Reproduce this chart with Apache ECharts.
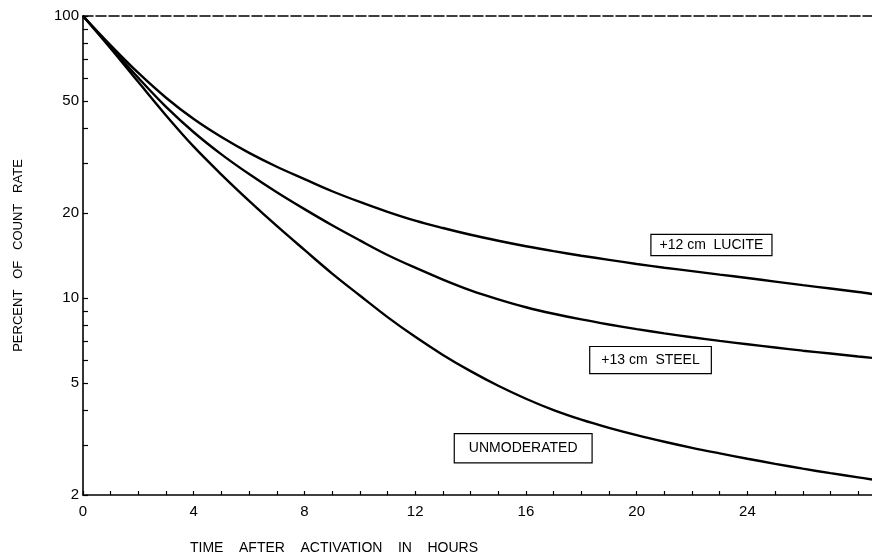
<!DOCTYPE html>
<html>
<head>
<meta charset="utf-8">
<script src="https://cdn.jsdelivr.net/npm/echarts@6/dist/echarts.min.js"></script>
<style>
html,body{margin:0;padding:0;background:#fff;}
#chart{width:872px;height:555px;}
</style>
</head>
<body>
<div id="chart"></div>
<script>
// Time after activation (hours)
const hours = [0,1,2,3,4,5,6,7,8,9,10,11,12,13,14,15,16,17,18,19,20,21,22,23,24,25,26,27,28,28.5];
// Percent of count rate, +12 cm Lucite
const lucite = [100,78.7,62.8,51.3,43.1,37.2,32.7,29.2,26.4,23.9,21.9,20.2,18.8,17.7,16.75,15.95,15.25,14.65,14.12,13.65,13.2,12.8,12.45,12.1,11.77,11.43,11.1,10.8,10.5,10.33];
// Percent of count rate, +13 cm Steel
const steel = [100,77.6,60.3,47.6,38.7,32.3,27.5,23.7,20.65,18.1,16.0,14.2,12.8,11.62,10.64,9.89,9.27,8.79,8.39,8.05,7.75,7.49,7.25,7.04,6.85,6.67,6.50,6.35,6.20,6.13];
// Percent of count rate, unmoderated
const unmoderated = [100,76.7,58.3,44.4,34.4,27.4,22.1,18.0,14.8,12.2,10.2,8.55,7.28,6.28,5.50,4.88,4.39,4.0,3.70,3.46,3.26,3.09,2.94,2.81,2.69,2.58,2.48,2.39,2.31,2.27];

const seriesNames = ['+12 cm  LUCITE', '+13 cm  STEEL', 'UNMODERATED'];
// label anchor positions in data units [hours, percent]
const labelAnchors = [[22.7, 15.4], [20.5, 6.02], [15.9, 2.93]];

const xTickLabels = [0,4,8,12,16,20,24];
const xTicks = [0,1,2,3,4,5,6,7,8,9,10,11,12,13,14,15,16,17,18,19,20,21,22,23,24,25,26,27,28];
const yTickLabels = [2,5,10,20,50,100];
const yTicks = [2,3,4,5,6,7,8,9,10,20,30,40,50,60,70,80,90,100];

const chart = echarts.init(document.getElementById('chart'), null, {renderer:'canvas'});
const FONT = 'Liberation Sans';

function mkSeries(name, vals, anchor, pad) {
  return {
    name: name,
    type: 'line',
    data: hours.map((h,i)=>[h, vals[i]]),
    showSymbol: false,
    smooth: 0.35,
    lineStyle: {color:'#000', width: 2.4},
    markPoint: {
      symbol: 'rect',
      symbolSize: 1,
      itemStyle: {color: 'rgba(0,0,0,0)'},
      data: [{coord: anchor, value: 0}],
      label: {
        show: true,
        position: 'inside',
        formatter: name,
        color: '#000',
        fontFamily: FONT,
        fontSize: 14,
        backgroundColor: '#fff',
        borderColor: '#000',
        borderWidth: 1.2,
        padding: pad
      }
    }
  };
}

chart.setOption({
  animation: false,
  backgroundColor: '#fff',
  grid: {left: 83, right: 0, top: 16, bottom: 60},
  xAxis: [{
    type: 'value', min: 0, max: 28.5,
    axisLine: {show: true, lineStyle: {color:'#000', width: 1.6}},
    axisTick: {show: true, inside: true, length: 4, customValues: xTicks, lineStyle:{color:'#000', width:1.2}},
    axisLabel: {customValues: xTickLabels, color:'#000', fontFamily: FONT, fontSize: 15, margin: 9},
    splitLine: {show: false}
  }, {
    type: 'value', min: 0, max: 28.5, position: 'top',
    axisLine: {show: true, lineStyle: {color:'#000', width: 1.6, type: [10,3]}},
    axisTick: {show: false}, axisLabel: {show: false}, splitLine: {show: false}
  }],
  yAxis: {
    type: 'log', logBase: 10, min: 2, max: 100,
    name: 'PERCENT   OF   COUNT   RATE',
    nameLocation: 'middle', nameGap: 58, nameRotate: 90,
    nameTextStyle: {color:'#000', fontFamily: FONT, fontSize: 13},
    axisLine: {show: true, lineStyle: {color:'#000', width: 1.6}},
    axisTick: {show: true, inside: true, length: 5, customValues: yTicks, lineStyle:{color:'#000', width:1.2}},
    axisLabel: {customValues: yTickLabels, color:'#000', fontFamily: FONT, fontSize: 15, margin: 4},
    splitLine: {show: false},
    minorTick: {show: false}
  },
  graphic: [{
    type: 'text', left: 190, top: 541,
    style: {text: 'TIME    AFTER    ACTIVATION    IN    HOURS', fill:'#000', font: '14px "Liberation Sans"'}
  }],
  series: [
    mkSeries(seriesNames[0], lucite, labelAnchors[0], [3,8]),
    mkSeries(seriesNames[1], steel, labelAnchors[1], [6,11]),
    mkSeries(seriesNames[2], unmoderated, labelAnchors[2], [7,14])
  ]
});
</script>
</body>
</html>
